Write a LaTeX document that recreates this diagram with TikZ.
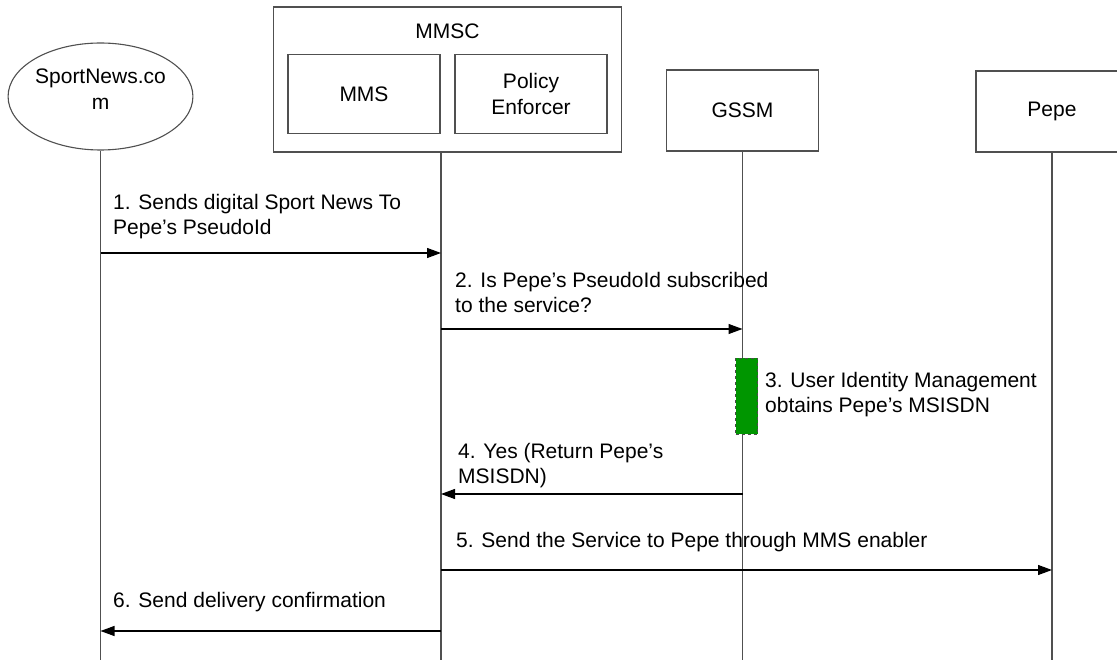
\documentclass[tikz,border=0pt]{standalone}
\usepackage{fontspec}
\setmainfont{Liberation Sans}
\usetikzlibrary{arrows.meta,shapes.geometric}
\definecolor{boxline}{RGB}{80,80,80}
\definecolor{actgreen}{RGB}{0,150,0}
\newcommand{\lstrut}{\rule{0pt}{18pt}}
\tikzset{
  actor/.style={draw=boxline, line width=1.1pt, fill=white, minimum width=152pt, minimum height=81pt, inner sep=0pt, align=center, font=\fontsize{21}{26}\selectfont},
  lifeline/.style={draw=boxline, line width=1.1pt},
  msg/.style={draw=black, line width=1.1pt, -{Triangle[length=14pt,width=10pt]}},
  lbl/.style={inner sep=0pt, align=left, anchor=north west, font=\fontsize{21}{25}\selectfont},
  act/.style={draw=black!70, dashed, fill=actgreen, line width=0.8pt, minimum width=22pt, minimum height=76pt, inner sep=0pt}
}
\begin{document}
\begin{tikzpicture}[x=1pt,y=-1pt]
\useasboundingbox (0,0) rectangle (1117,660);
\clip (0,0) rectangle (1117,660);
% participants
\node[draw=boxline, line width=1.1pt, ellipse, minimum width=184pt, minimum height=107pt, inner sep=0pt, align=center, font=\fontsize{21}{26}\selectfont] (sn) at (100.5,96.5) {SportNews.co\\m\rule[-14.5pt]{0pt}{0pt}};
\node[draw=boxline, line width=1.1pt, minimum width=348pt, minimum height=145pt, inner sep=0pt] (mmsc) at (447.5,79.5) {};
\node[font=\fontsize{21}{25}\selectfont, inner sep=0pt, anchor=base] (mmsclbl) at (447.5,39) {MMSC};
\node[actor, minimum height=79pt] (mms) at (364,94) {MMS};
\node[actor, minimum height=79pt] (pe) at (531,94) {Policy\\Enforcer};
\node[actor] (gssm) at (742.5,110.5) {GSSM};
\node[actor] (pepe) at (1052,111.5) {Pepe};
% lifeline ends
\coordinate (snE) at (sn.south |- 0,660);
\coordinate (mmscS) at (441,152);
\coordinate (mmscE) at (441,660);
\coordinate (gssmE) at (gssm.south |- 0,660);
\coordinate (pepeE) at (pepe.south |- 0,660);
\draw[lifeline] (sn.south) -- (snE);
\draw[lifeline] (mmscS) -- (mmscE);
\draw[lifeline] (gssm.south) -- (gssmE);
\draw[lifeline] (pepe.south) -- (pepeE);
% message points
\coordinate (m1a) at (sn.south |- 0,253);
\coordinate (m1b) at (441,253);
\coordinate (m2a) at (441,329);
\coordinate (m2b) at (gssm.south |- 0,329);
\coordinate (m4a) at (gssm.south |- 0,494);
\coordinate (m4b) at (441,494);
\coordinate (m5a) at (441,570);
\coordinate (m5b) at (pepe.south |- 0,570);
\coordinate (m6a) at (441,631);
\coordinate (m6b) at (sn.south |- 0,631);
% activation
\node[act] (a3) at (746.5,396) {};
% messages
\draw[msg] (m1a) -- (m1b);
\draw[msg] (m2a) -- (m2b);
\draw[msg] (m4a) -- (m4b);
\draw[msg] (m5a) -- (m5b);
\draw[msg] (m6a) -- (m6b);
% labels (top = first baseline - 18)
\node[lbl] (t1) at (113,191) {\lstrut 1. Sends digital Sport News To\\Pepe’s PseudoId};
\node[lbl] (t2) at (455,269) {\lstrut 2. Is Pepe’s PseudoId subscribed\\to the service?};
\node[lbl] (t3) at (765,369) {\lstrut 3. User Identity Management\\obtains Pepe’s MSISDN};
\node[lbl] (t4) at (458,440) {\lstrut 4. Yes (Return Pepe’s\\MSISDN)};
\node[lbl] (t5) at (456,529) {\lstrut 5. Send the Service to Pepe through MMS enabler};
\node[lbl] (t6) at (113,589) {\lstrut 6. Send delivery confirmation};
\end{tikzpicture}
\end{document}
